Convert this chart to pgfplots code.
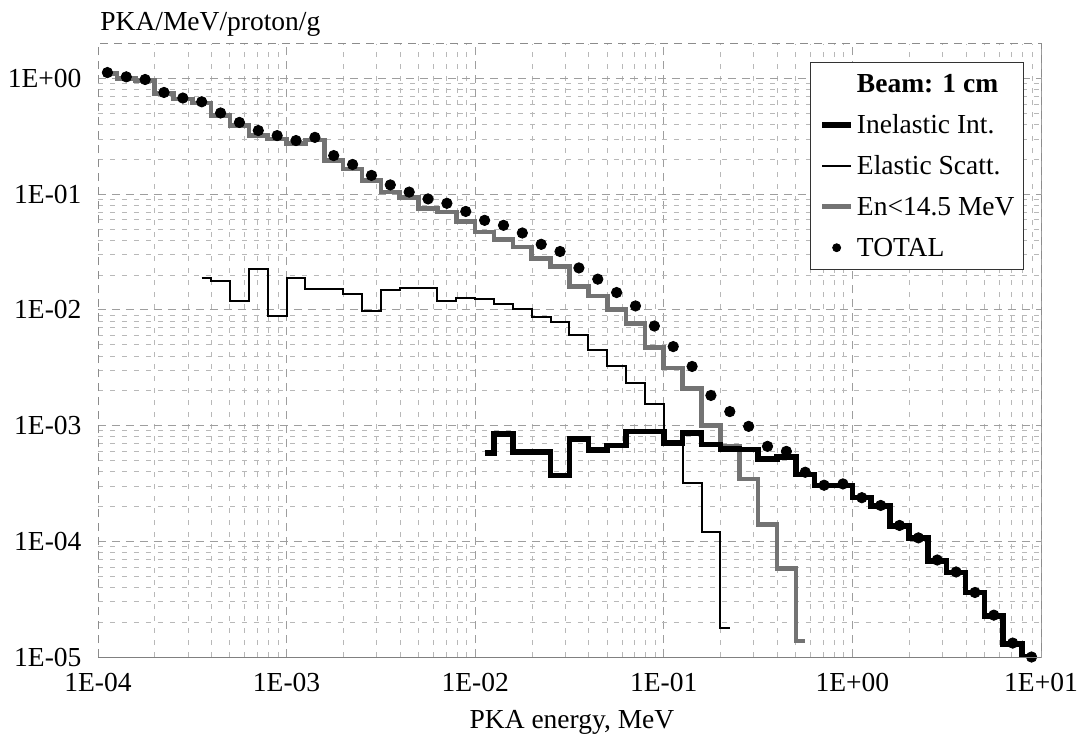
\documentclass[border=0pt]{standalone}
\usepackage{fontspec}
\setmainfont{Liberation Serif}
\usepackage{pgfplots}
\pgfplotsset{compat=1.18}
\pgfplotsset{
  linelegend/.style={legend image code/.code={\draw[##1] (0bp,0bp) -- (14.5bp,0bp);}},
  dotlegend/.style={legend image code/.code={\fill[black] (7.25bp,0bp) circle (2bp);}}
}
\begin{document}
\fontsize{13.8pt}{16pt}\selectfont
\begin{tikzpicture}
\useasboundingbox (-49bp,-44bp) rectangle (491.5bp,328.5bp);
\begin{axis}[
  name=ax, at={(0,0)}, anchor=south west,
  scale only axis, width=471.5bp, height=306.75bp,
  xmode=log, ymode=log,
  xmin=1e-4, xmax=10, ymin=1e-5, ymax=2,
  xtick={1e-4,1e-3,1e-2,1e-1,1,10},
  xticklabels={1E-04,1E-03,1E-02,1E-01,1E+00,1E+01},
  ytick={1e-5,1e-4,1e-3,1e-2,1e-1,1},
  yticklabels={1E-05,1E-04,1E-03,1E-02,1E-01,1E+00},
  minor xtick={2e-4,3e-4,4e-4,5e-4,6e-4,7e-4,8e-4,9e-4,
               2e-3,3e-3,4e-3,5e-3,6e-3,7e-3,8e-3,9e-3,
               2e-2,3e-2,4e-2,5e-2,6e-2,7e-2,8e-2,9e-2,
               0.2,0.3,0.4,0.5,0.6,0.7,0.8,0.9,
               2,3,4,5,6,7,8,9},
  minor ytick={2e-5,3e-5,4e-5,5e-5,6e-5,7e-5,8e-5,9e-5,
               2e-4,3e-4,4e-4,5e-4,6e-4,7e-4,8e-4,9e-4,
               2e-3,3e-3,4e-3,5e-3,6e-3,7e-3,8e-3,9e-3,
               2e-2,3e-2,4e-2,5e-2,6e-2,7e-2,8e-2,9e-2,
               0.2,0.3,0.4,0.5,0.6,0.7,0.8,0.9},
  tick style={draw=none},
  grid=both,
  major grid style={black!38, dash pattern=on 4bp off 3bp, line width=0.4bp},
  minor grid style={black!28, dash pattern=on 2.5bp off 3.5bp, line width=0.35bp},
  axis line style={black!45, dash pattern=on 4bp off 3bp, line width=0.4bp},
  ticklabel style={font=\fontsize{13.8pt}{16pt}\selectfont},
  yticklabel style={xshift=-3.5bp},
  xticklabel style={yshift=-3.5bp},
  clip mode=individual,
  legend style={at={(0.755,0.9703)}, anchor=north west, draw=black!80, line width=0.4bp,
    fill=white, inner xsep=4.5bp, inner ysep=6.2bp, row sep=11.3bp, column sep=1.5bp,
    cells={anchor=west},
    nodes={inner sep=0pt, text height=9.2bp, text depth=0pt, font=\fontsize{13.8pt}{16pt}\selectfont}},
  legend cell align=left,
]
\addlegendimage{empty legend}
\addlegendentry{\textbf{Beam: 1 cm}}
\addlegendimage{black, line width=2.8bp, linelegend}
\addlegendentry{Inelastic Int.}
\addlegendimage{black, line width=1bp, linelegend}
\addlegendentry{Elastic Scatt.}
\addlegendimage{black!55, line width=2.3bp, linelegend}
\addlegendentry{En<14.5 MeV}
\addlegendimage{black, dotlegend}
\addlegendentry{TOTAL}

% En < 14.5 MeV (gray)
\addplot[const plot, black!55, line width=2.3bp, forget plot] coordinates {
(1.122e-4,1.099) (1.259e-4,0.991) (1.585e-4,0.953) (1.995e-4,0.740) (2.512e-4,0.662)
(3.162e-4,0.611) (3.981e-4,0.476) (5.012e-4,0.390) (6.310e-4,0.320) (7.943e-4,0.299)
(1e-3,0.272) (1.259e-3,0.294) (1.585e-3,0.195) (1.995e-3,0.165) (2.512e-3,0.131)
(3.162e-3,0.104) (3.981e-3,0.0935) (5.012e-3,0.0753) (6.310e-3,0.0698) (7.943e-3,0.0581)
(1e-2,0.0470) (1.259e-2,0.0407) (1.585e-2,0.0349) (1.995e-2,0.0277) (2.512e-2,0.0236)
(3.162e-2,0.0159) (3.981e-2,0.0132) (5.012e-2,0.0101) (6.310e-2,0.00764) (7.943e-2,0.00474)
(0.1,0.00313) (0.1259,0.00210) (0.1585,0.00100) (0.1995,0.000661) (0.2512,0.000346)
(0.3162,0.000140) (0.3981,5.81e-5) (0.5012,1.38e-5) (0.5623,1.38e-5)
};
% Elastic
\addplot[const plot, black, line width=1bp, forget plot] coordinates {
(3.548e-4,0.0187) (3.981e-4,0.0178) (5.012e-4,0.0119) (6.310e-4,0.0223) (7.943e-4,0.00883)
(1e-3,0.0187) (1.259e-3,0.0151) (1.585e-3,0.0151) (1.995e-3,0.0137) (2.512e-3,0.00980)
(3.162e-3,0.0148) (3.981e-3,0.0155) (5.012e-3,0.0155) (6.310e-3,0.0119) (7.943e-3,0.0127)
(1e-2,0.0123) (1.259e-2,0.0112) (1.585e-2,0.0102) (1.995e-2,0.00871) (2.512e-2,0.00789)
(3.162e-2,0.00610) (3.981e-2,0.00453) (5.012e-2,0.00327) (6.310e-2,0.00233) (7.943e-2,0.00154)
(0.1,0.000731) (0.1259,0.000320) (0.1585,0.000120) (0.1995,1.77e-5) (0.2239,1.77e-5)
};
% Inelastic
\addplot[const plot, black, line width=2.8bp, forget plot] coordinates {
(1.122e-2,0.000579) (1.259e-2,0.000843) (1.585e-2,0.000590) (1.995e-2,0.000590) (2.512e-2,0.000370)
(3.162e-2,0.000766) (3.981e-2,0.000615) (5.012e-2,0.000670) (6.310e-2,0.000889) (7.943e-2,0.000889)
(0.1,0.000708) (0.1259,0.000861) (0.1585,0.000684) (0.1995,0.000627) (0.2512,0.000619)
(0.3162,0.000515) (0.3981,0.000536) (0.5012,0.000378) (0.6310,0.000303) (0.7943,0.000303)
(1.0,0.000238) (1.259,0.000201) (1.585,0.000135) (1.995,0.000107) (2.512,6.76e-5)
(3.162,5.37e-5) (3.981,3.61e-5) (5.012,2.27e-5) (6.310,1.29e-5) (7.943,1.0e-5) (8.913,1.0e-5)
};
% TOTAL
\addplot[only marks, mark=*, mark size=2.6bp, mark options={fill=black, draw=black}, forget plot] coordinates {
(1.122e-4,1.122) (1.413e-4,1.030) (1.778e-4,0.977) (2.239e-4,0.755) (2.818e-4,0.676)
(3.548e-4,0.627) (4.467e-4,0.502) (5.623e-4,0.416) (7.079e-4,0.354) (8.913e-4,0.320)
(1.122e-3,0.290) (1.413e-3,0.309) (1.778e-3,0.215) (2.239e-3,0.180) (2.818e-3,0.145)
(3.548e-3,0.120) (4.467e-3,0.104) (5.623e-3,0.0908) (7.079e-3,0.0832) (8.913e-3,0.0708)
(1.122e-2,0.0593) (1.413e-2,0.0537) (1.778e-2,0.0461) (2.239e-2,0.0368) (2.818e-2,0.0319)
(3.548e-2,0.0230) (4.467e-2,0.0184) (5.623e-2,0.0141) (7.079e-2,0.0108) (8.913e-2,0.00724)
(0.1122,0.00481) (0.1413,0.00324) (0.1778,0.00182) (0.2239,0.00132) (0.2818,0.000984)
(0.3548,0.000661) (0.4467,0.000598) (0.5623,0.000395) (0.7079,0.000305) (0.8913,0.000313)
(1.122,0.000238) (1.413,0.000204) (1.778,0.000137) (2.239,0.000107) (2.818,6.89e-5)
(3.548,5.43e-5) (4.467,3.61e-5) (5.623,2.30e-5) (7.079,1.32e-5) (8.913,1.0e-5)
};
\end{axis}
\draw[black!50, line width=0.5bp] (0bp,0bp) -- (471.5bp,0bp);
\node[anchor=base west, inner sep=0pt] at (1bp,313bp) {PKA/MeV/proton/g};
\node[anchor=base, inner sep=0pt] at (237bp,-35.5bp) {PKA energy, MeV};
\end{tikzpicture}
\end{document}
